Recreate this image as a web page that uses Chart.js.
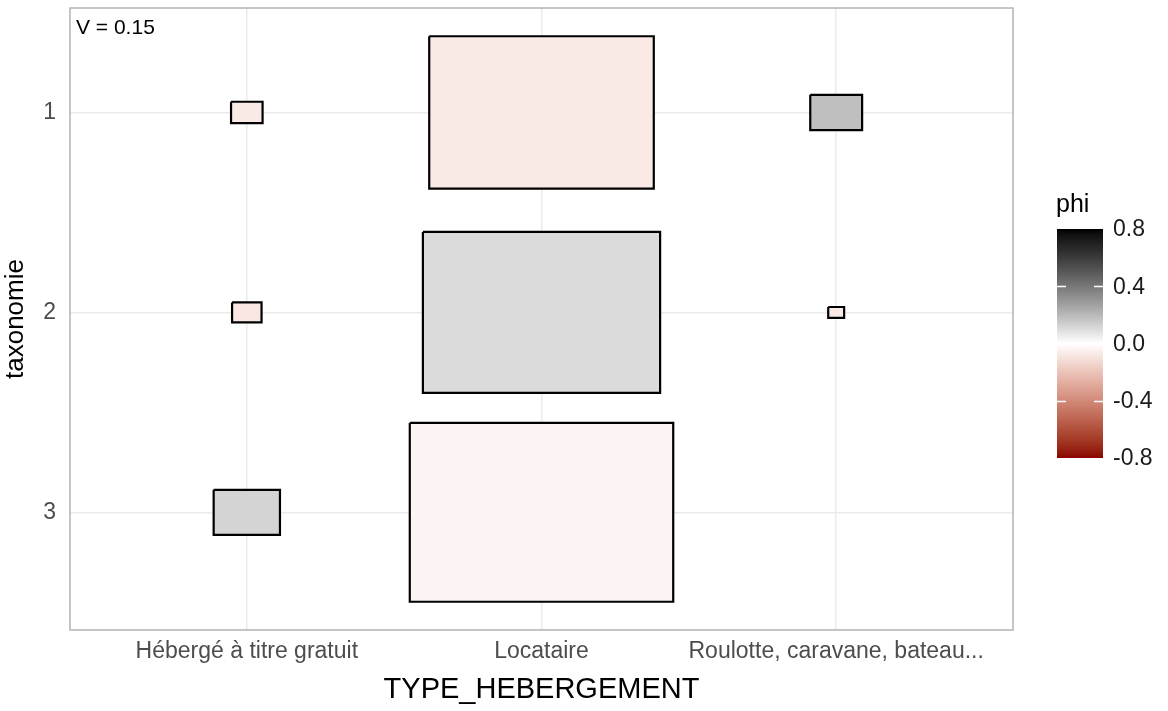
<!DOCTYPE html>
<html>
<head>
<meta charset="utf-8">
<script src="https://cdn.jsdelivr.net/npm/chart.js@4.4.1/dist/chart.umd.min.js"></script>
<style>
  html, body { margin: 0; padding: 0; background: #ffffff; }
  #wrap { width: 1168px; height: 711px; }
</style>
</head>
<body>
<div id="wrap"><canvas id="c" width="1168" height="711"></canvas></div>
<script>
// Housing type (columns) and taxonomy class (rows)
const categories = ['Hébergé à titre gratuit', 'Locataire', 'Roulotte, caravane, bateau...'];
const taxonomyLevels = ['1', '2', '3'];

// Side length of each cell square (data units), one array per taxonomy class
const sizeClass1 = [0.107, 0.762, 0.176];
const sizeClass2 = [0.100, 0.805, 0.054];
const sizeClass3 = [0.225, 0.894, 0];

// phi coefficient of each cell
const phiClass1 = [-0.07, -0.07, 0.18];
const phiClass2 = [-0.08, 0.10, -0.07];
const phiClass3 = [0.12, -0.036, 0];

const cramerLabel = 'V = 0.15';
const phiTicks = [0.8, 0.4, 0.0, -0.4, -0.8];
const phiLimit = 0.8;

const sizes = [sizeClass1, sizeClass2, sizeClass3];
const phis = [phiClass1, phiClass2, phiClass3];

// ---- colour scale: darkred - white - black, interpolated in Lab ----
function hexToRgb(h) {
  return [parseInt(h.slice(1, 3), 16), parseInt(h.slice(3, 5), 16), parseInt(h.slice(5, 7), 16)];
}
function srgbToLin(c) { c /= 255; return c <= 0.04045 ? c / 12.92 : Math.pow((c + 0.055) / 1.055, 2.4); }
function linToSrgb(c) {
  const v = c <= 0.0031308 ? 12.92 * c : 1.055 * Math.pow(c, 1 / 2.4) - 0.055;
  return Math.max(0, Math.min(255, Math.round(v * 255)));
}
const WHITE_REF = [0.95047, 1.0, 1.08883];
function rgbToLab(rgb) {
  const [r, g, b] = rgb.map(srgbToLin);
  const X = 0.4124 * r + 0.3576 * g + 0.1805 * b;
  const Y = 0.2126 * r + 0.7152 * g + 0.0722 * b;
  const Z = 0.0193 * r + 0.1192 * g + 0.9505 * b;
  const f = t => t > 0.008856 ? Math.cbrt(t) : 7.787 * t + 16 / 116;
  const fx = f(X / WHITE_REF[0]), fy = f(Y / WHITE_REF[1]), fz = f(Z / WHITE_REF[2]);
  return [116 * fy - 16, 500 * (fx - fy), 200 * (fy - fz)];
}
function labToRgb(lab) {
  const fy = (lab[0] + 16) / 116, fx = fy + lab[1] / 500, fz = fy - lab[2] / 200;
  const inv = t => t * t * t > 0.008856 ? t * t * t : (t - 16 / 116) / 7.787;
  const X = inv(fx) * WHITE_REF[0], Y = inv(fy) * WHITE_REF[1], Z = inv(fz) * WHITE_REF[2];
  const r = 3.2406 * X - 1.5372 * Y - 0.4986 * Z;
  const g = -0.9689 * X + 1.8758 * Y + 0.0415 * Z;
  const b = 0.0557 * X - 0.2040 * Y + 1.0570 * Z;
  return [linToSrgb(r), linToSrgb(g), linToSrgb(b)];
}
const LAB_LOW = rgbToLab(hexToRgb('#8b0000'));
const LAB_MID = rgbToLab(hexToRgb('#ffffff'));
const LAB_HIGH = rgbToLab(hexToRgb('#000000'));
function phiColor(phi) {
  let t = Math.max(-1, Math.min(1, phi / phiLimit));
  const end = t >= 0 ? LAB_HIGH : LAB_LOW;
  t = Math.abs(t);
  const lab = [0, 1, 2].map(i => LAB_MID[i] + (end[i] - LAB_MID[i]) * t);
  const rgb = labToRgb(lab);
  return 'rgb(' + rgb.join(',') + ')';
}

// ---- one closed square per cell ----
const datasets = [];
let yLow = Infinity, yHigh = -Infinity;
sizes.forEach((row, r) => {
  row.forEach((s, c) => {
    if (!s) return;
    const cx = c + 1, cy = r + 1, h = s / 2;
    yLow = Math.min(yLow, cy - h);
    yHigh = Math.max(yHigh, cy + h);
    datasets.push({
      label: taxonomyLevels[r] + ' / ' + categories[c],
      data: [
        { x: cx - h, y: cy - h }, { x: cx + h, y: cy - h },
        { x: cx + h, y: cy + h }, { x: cx - h, y: cy + h },
        { x: cx - h, y: cy - h }
      ],
      showLine: true,
      fill: 'shape',
      tension: 0,
      backgroundColor: phiColor(phis[r][c]),
      borderColor: '#000000',
      borderWidth: 2.2,
      borderJoinStyle: 'miter',
      pointRadius: 0,
      pointHoverRadius: 0
    });
  });
});
const yPad = (yHigh - yLow) * 0.05;

const FONT = "'Liberation Sans', Arial, sans-serif";
const GRID = '#ebebeb';

// panel frame, annotation and the phi colour bar
const decorations = {
  id: 'decorations',
  beforeDatasetsDraw(chart) {
    const { ctx, chartArea: a } = chart;
    ctx.save();
    ctx.strokeStyle = '#b3b3b3';
    ctx.lineWidth = 1.5;
    ctx.strokeRect(a.left, a.top, a.right - a.left, a.bottom - a.top);
    ctx.restore();
  },
  afterDraw(chart) {
    const { ctx, chartArea: a } = chart;
    ctx.save();
    ctx.fillStyle = '#000000';
    ctx.font = '21px ' + FONT;
    ctx.textBaseline = 'alphabetic';
    ctx.textAlign = 'left';
    ctx.fillText(cramerLabel, a.left + 6, a.top + 26);

    // colour bar
    const bx = 1057, bw = 46, byTop = 229, byBot = 458;
    const yOf = v => byTop + (phiLimit - v) / (2 * phiLimit) * (byBot - byTop);
    const grad = ctx.createLinearGradient(0, byTop, 0, byBot);
    for (let i = 0; i <= 40; i++) {
      const v = phiLimit - i * (2 * phiLimit) / 40;
      grad.addColorStop(i / 40, phiColor(v));
    }
    ctx.fillStyle = grad;
    ctx.fillRect(bx, byTop, bw, byBot - byTop);

    ctx.strokeStyle = '#ffffff';
    ctx.lineWidth = 1.5;
    phiTicks.forEach(v => {
      if (Math.abs(v) >= phiLimit) return;
      const y = Math.round(yOf(v)) + 0.5;
      ctx.beginPath();
      ctx.moveTo(bx, y); ctx.lineTo(bx + 9, y);
      ctx.moveTo(bx + bw - 9, y); ctx.lineTo(bx + bw, y);
      ctx.stroke();
    });

    ctx.fillStyle = '#1a1a1a';
    ctx.font = '23px ' + FONT;
    ctx.textBaseline = 'middle';
    phiTicks.forEach(v => {
      ctx.fillText(v.toFixed(1), 1113, yOf(v) + 1);
    });

    ctx.fillStyle = '#000000';
    ctx.font = '25px ' + FONT;
    ctx.textBaseline = 'alphabetic';
    ctx.fillText('phi', 1056, 212);
    ctx.restore();
  }
};

new Chart(document.getElementById('c'), {
  type: 'scatter',
  data: { datasets },
  plugins: [decorations],
  options: {
    responsive: false,
    animation: false,
    layout: { padding: { top: 8, right: 155, left: 0, bottom: 0 } },
    plugins: { legend: { display: false }, tooltip: { enabled: false } },
    scales: {
      x: {
        type: 'linear',
        min: 0.4,
        max: categories.length + 0.6,
        afterBuildTicks: s => { s.ticks = categories.map((_, i) => ({ value: i + 1 })); },
        afterFit: s => { s.height = 81; s.paddingLeft = 0; s.paddingRight = 0; },
        ticks: {
          callback: v => categories[v - 1],
          color: '#4d4d4d',
          font: { family: FONT, size: 23 },
          padding: 8,
          maxRotation: 0,
          autoSkip: false
        },
        grid: { color: GRID, lineWidth: 1.5, drawTicks: false },
        border: { display: false },
        title: {
          display: true,
          text: 'TYPE_HEBERGEMENT',
          color: '#000000',
          font: { family: FONT, size: 29 },
          padding: { top: 0, bottom: 4 }
        }
      },
      y: {
        type: 'linear',
        reverse: true,
        min: yLow - yPad,
        max: yHigh + yPad,
        afterBuildTicks: s => { s.ticks = taxonomyLevels.map((_, i) => ({ value: i + 1 })); },
        afterFit: s => { s.width = 70; s.paddingTop = 0; s.paddingBottom = 0; },
        ticks: {
          callback: v => taxonomyLevels[v - 1],
          color: '#4d4d4d',
          font: { family: FONT, size: 23 },
          padding: 14
        },
        grid: { color: GRID, lineWidth: 1.5, drawTicks: false },
        border: { display: false },
        title: {
          display: true,
          text: 'taxonomie',
          color: '#000000',
          font: { family: FONT, size: 26 },
          padding: { top: 0, bottom: 0 }
        }
      }
    }
  }
});
</script>
</body>
</html>
